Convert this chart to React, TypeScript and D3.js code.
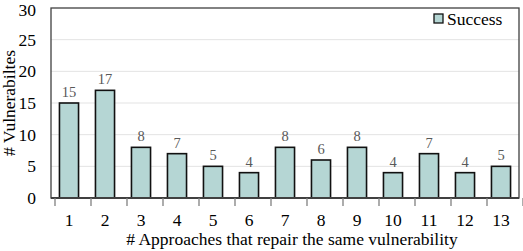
import React from 'react';
import * as d3 from 'd3';

const categories = ['1', '2', '3', '4', '5', '6', '7', '8', '9', '10', '11', '12', '13'];
const successValues = [15, 17, 8, 7, 5, 4, 8, 6, 8, 4, 7, 4, 5];
const yTicks = [0, 5, 10, 15, 20, 25, 30];

const W = 523;
const H = 251;
const margin = { top: 8, right: 4, bottom: 53, left: 51 };
const font = 'Liberation Serif, Times New Roman, serif';
const fs = 17.5;

export default function App() {
  const innerRight = W - margin.right;
  const innerBottom = H - margin.bottom;

  const x = d3
    .scaleBand<string>()
    .domain(categories)
    .range([margin.left, innerRight])
    .paddingInner(0.47)
    .paddingOuter(0.235);

  // band boundaries used for the tick marks
  const step = x.step();
  const x0 = x.range()[0];

  const y = d3.scaleLinear().domain([0, 30]).range([innerBottom, margin.top]);

  return (
    <svg width={W} height={H} style={{ position: 'absolute', left: 0, top: 0 }} fontFamily={font}>
      <rect x={0} y={0} width={W} height={H} fill="#fff" />
      {/* grid */}
      {yTicks.slice(1, -1).map((t) => (
        <line key={t} x1={margin.left} x2={innerRight} y1={y(t)} y2={y(t)} stroke="#e3e3e3" strokeWidth={1} />
      ))}
      {/* frame */}
      <rect
        x={margin.left}
        y={margin.top}
        width={innerRight - margin.left}
        height={innerBottom - margin.top}
        fill="none"
        stroke="#404040"
        strokeWidth={1.3}
      />
      {/* bars */}
      {successValues.map((v, i) => (
        <g key={categories[i]}>
          <rect
            x={x(categories[i])}
            y={y(v)}
            width={x.bandwidth()}
            height={y(0) - y(v)}
            fill="#b5d6d4"
            stroke="#111"
            strokeWidth={1.6}
          />
          <text
            x={x(categories[i])! + x.bandwidth() / 2}
            y={y(v) - 6}
            textAnchor="middle"
            fontSize={14.5}
            fill="#595959"
          >
            {v}
          </text>
        </g>
      ))}
      {/* x axis line */}
      <line x1={margin.left} x2={innerRight} y1={innerBottom} y2={innerBottom} stroke="#404040" strokeWidth={2} />
      {d3.range(categories.length + 1).map((i) => (
        <line
          key={i}
          x1={x0 + i * step + 4}
          x2={x0 + i * step + 4}
          y1={innerBottom}
          y2={innerBottom + 8}
          stroke="#808080"
          strokeWidth={1.3}
        />
      ))}
      {categories.map((c) => (
        <text key={c} x={x(c)! + x.bandwidth() / 2} y={innerBottom + 28} textAnchor="middle" fontSize={fs} fill="#000">
          {c}
        </text>
      ))}
      {/* y ticks */}
      {yTicks.map((t) => (
        <text
          key={t}
          x={margin.left - 15}
          y={Math.max(y(t), 10)}
          dy="0.35em"
          textAnchor="end"
          fontSize={fs}
          fill="#000"
        >
          {t}
        </text>
      ))}
      {/* axis titles */}
      <text x={(margin.left + innerRight) / 2 + 7} y={H - 6} textAnchor="middle" fontSize={fs} fill="#000">
        # Approaches that repair the same vulnerability
      </text>
      <text
        transform={`translate(9, ${(margin.top + innerBottom) / 2}) rotate(-90)`}
        textAnchor="middle"
        dy="0.35em"
        fontSize={fs}
        fill="#000"
      >
        # Vulnerabiltes
      </text>
      {/* legend */}
      <rect x={434} y={14} width={9} height={9} fill="#b5d6d4" stroke="#111" strokeWidth={1.3} />
      <text x={447} y={18.5} dy="0.35em" fontSize={fs} fill="#000">
        Success
      </text>
    </svg>
  );
}
